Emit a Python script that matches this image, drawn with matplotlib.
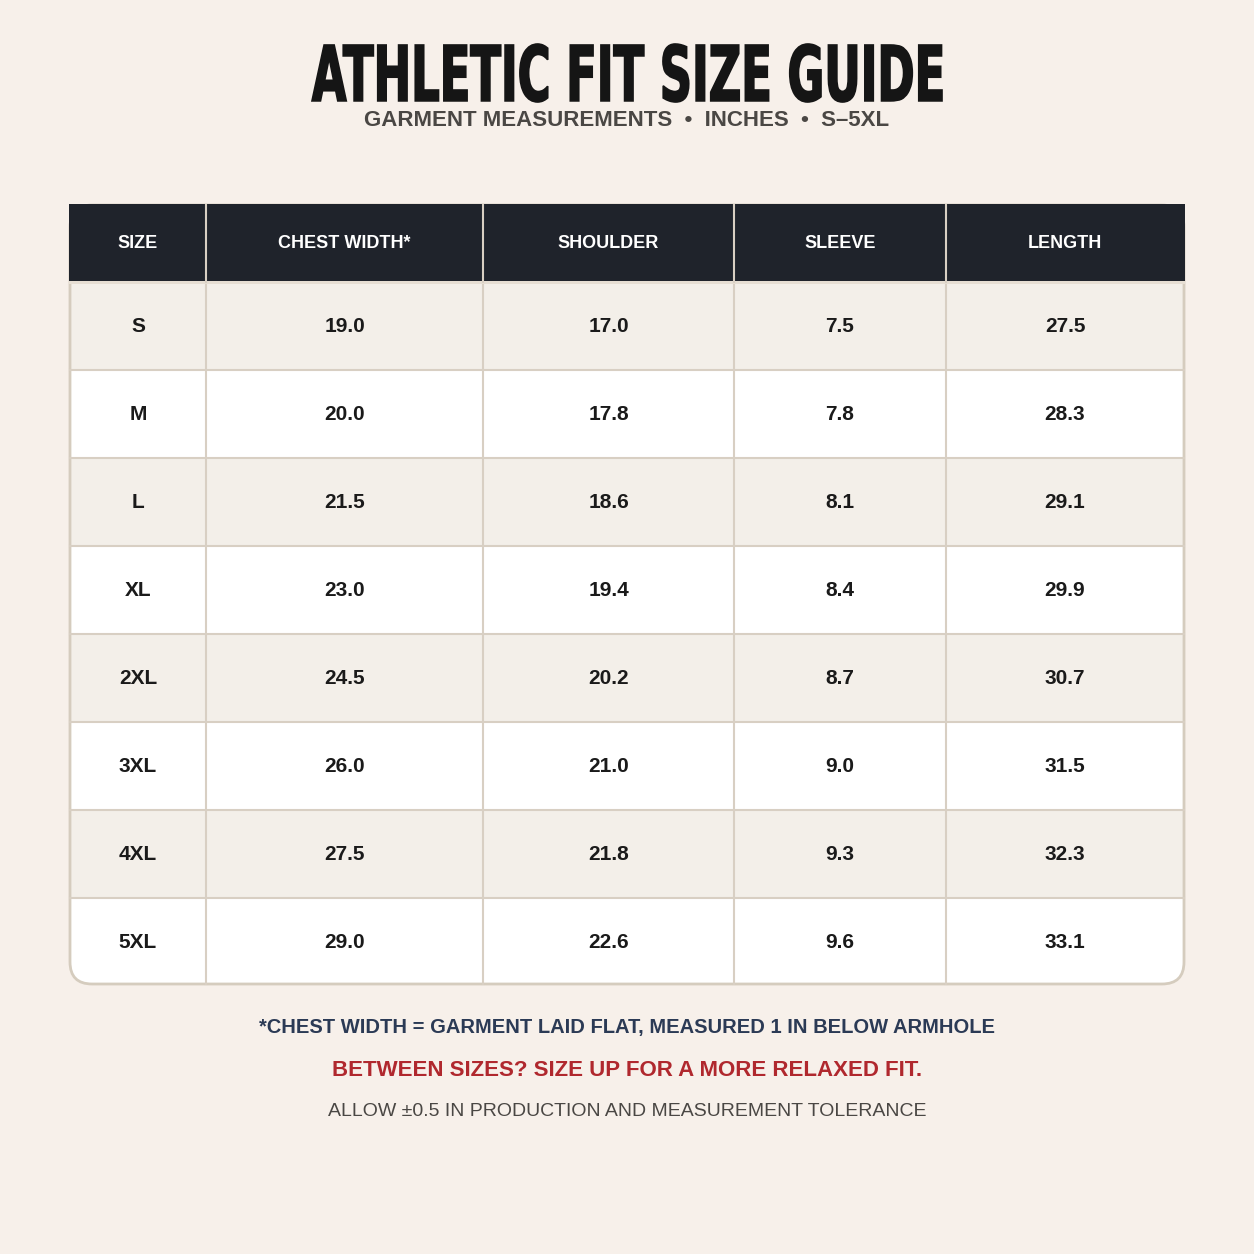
import matplotlib
matplotlib.use("Agg")
import matplotlib.pyplot as plt
from matplotlib.patches import Rectangle, FancyBboxPatch, PathPatch
from matplotlib.textpath import TextPath
from matplotlib.font_manager import FontProperties
from matplotlib.transforms import Affine2D

columns = ["SIZE", "CHEST WIDTH*", "SHOULDER", "SLEEVE", "LENGTH"]
sizes = ["S", "M", "L", "XL", "2XL", "3XL", "4XL", "5XL"]
chest = [19.0, 20.0, 21.5, 23.0, 24.5, 26.0, 27.5, 29.0]
shoulder = [17.0, 17.8, 18.6, 19.4, 20.2, 21.0, 21.8, 22.6]
sleeve = [7.5, 7.8, 8.1, 8.4, 8.7, 9.0, 9.3, 9.6]
length = [27.5, 28.3, 29.1, 29.9, 30.7, 31.5, 32.3, 33.1]
title = "ATHLETIC FIT SIZE GUIDE"

BG = "#F7F0EA"
fig = plt.figure(figsize=(12.54, 12.54), dpi=100, facecolor=BG)
ax = fig.add_axes([0, 0, 1, 1])
ax.set_xlim(0, 1254); ax.set_ylim(1254, 0); ax.axis("off")

# condensed heavy title via scaled text path
tp = TextPath((0, 0), title, size=80, prop=FontProperties(family="DejaVu Sans", weight="bold"))
bb = tp.get_extents()
target_w = 630
sx = target_w / bb.width
sy = 58 / (bb.height if bb.height > 0 else 58)
sy = min(sy, 1.0)
tr = Affine2D().translate(-bb.x0 - bb.width / 2, -bb.y0).scale(sx, -sy).translate(627, 102)
ax.add_patch(PathPatch(tr.transform_path(tp), fc="#151515", ec="#151515", lw=1.2))

ax.text(627, 121, "GARMENT MEASUREMENTS  •  INCHES  •  S–5XL", ha="center", va="center",
        fontsize=16, fontweight="bold", color="#4A4744", family="Liberation Sans")

xs = [70, 206, 483, 734, 946, 1184]
top, hh, rh = 205, 77, 88
body_top = top + hh
body_bot = body_top + rh * len(sizes) - 2
line_c = "#D8CFC3"

body = FancyBboxPatch((70, top), 1114, body_bot - top,
                      boxstyle="round,pad=0,rounding_size=22", fc="white", ec="none")
ax.add_patch(body)

rows = list(zip(sizes, chest, shoulder, sleeve, length))
for r, vals in enumerate(rows):
    y0 = body_top + r * rh
    fc = "#F3EFE9" if r % 2 == 0 else "white"
    p = Rectangle((70, y0), 1114, rh, fc=fc, ec="none")
    ax.add_patch(p); p.set_clip_path(body)
    if r > 0:
        ax.plot([70, 1184], [y0, y0], color=line_c, lw=1.5)
    for i, v in enumerate(vals):
        s = v if isinstance(v, str) else f"{v:.1f}"
        ax.text((xs[i] + xs[i + 1]) / 2, y0 + rh / 2, s, ha="center", va="center",
                color="#1A1A1A", fontsize=15, fontweight="bold", family="Liberation Sans")
for x in xs[1:-1]:
    ax.plot([x, x], [top, body_bot], color=line_c, lw=1.5)
border = FancyBboxPatch((70, top), 1114, body_bot - top,
                        boxstyle="round,pad=0,rounding_size=22", fc="none", ec="#D5CCBE", lw=2)
ax.add_patch(border)

ax.add_patch(Rectangle((69, top - 1), 1116, hh + 1, fc="#1F232B", ec="none", zorder=3))
ax.add_patch(Rectangle((69, body_top - 1), 1116, 2.5, fc="#E6DED3", ec="none", zorder=3))
for x in xs[1:-1]:
    ax.plot([x, x], [top, body_top], color="#D8CFC3", lw=1.5, zorder=4)
for i, c in enumerate(columns):
    ax.text((xs[i] + xs[i + 1]) / 2, top + hh / 2, c, ha="center", va="center",
            color="white", fontsize=13, fontweight="bold", family="Liberation Sans", zorder=5)

ax.text(627, 1028, "*CHEST WIDTH = GARMENT LAID FLAT, MEASURED 1 IN BELOW ARMHOLE",
        ha="center", va="center", fontsize=14.5, fontweight="bold", color="#2B3A55",
        family="Liberation Sans")
ax.text(627, 1070, "BETWEEN SIZES? SIZE UP FOR A MORE RELAXED FIT.",
        ha="center", va="center", fontsize=16, fontweight="bold", color="#B0282E",
        family="Liberation Sans")
ax.text(627, 1111, "ALLOW ±0.5 IN PRODUCTION AND MEASUREMENT TOLERANCE",
        ha="center", va="center", fontsize=14, color="#4A4744", family="Liberation Sans")

fig.savefig("out.png", dpi=100, facecolor=BG)
